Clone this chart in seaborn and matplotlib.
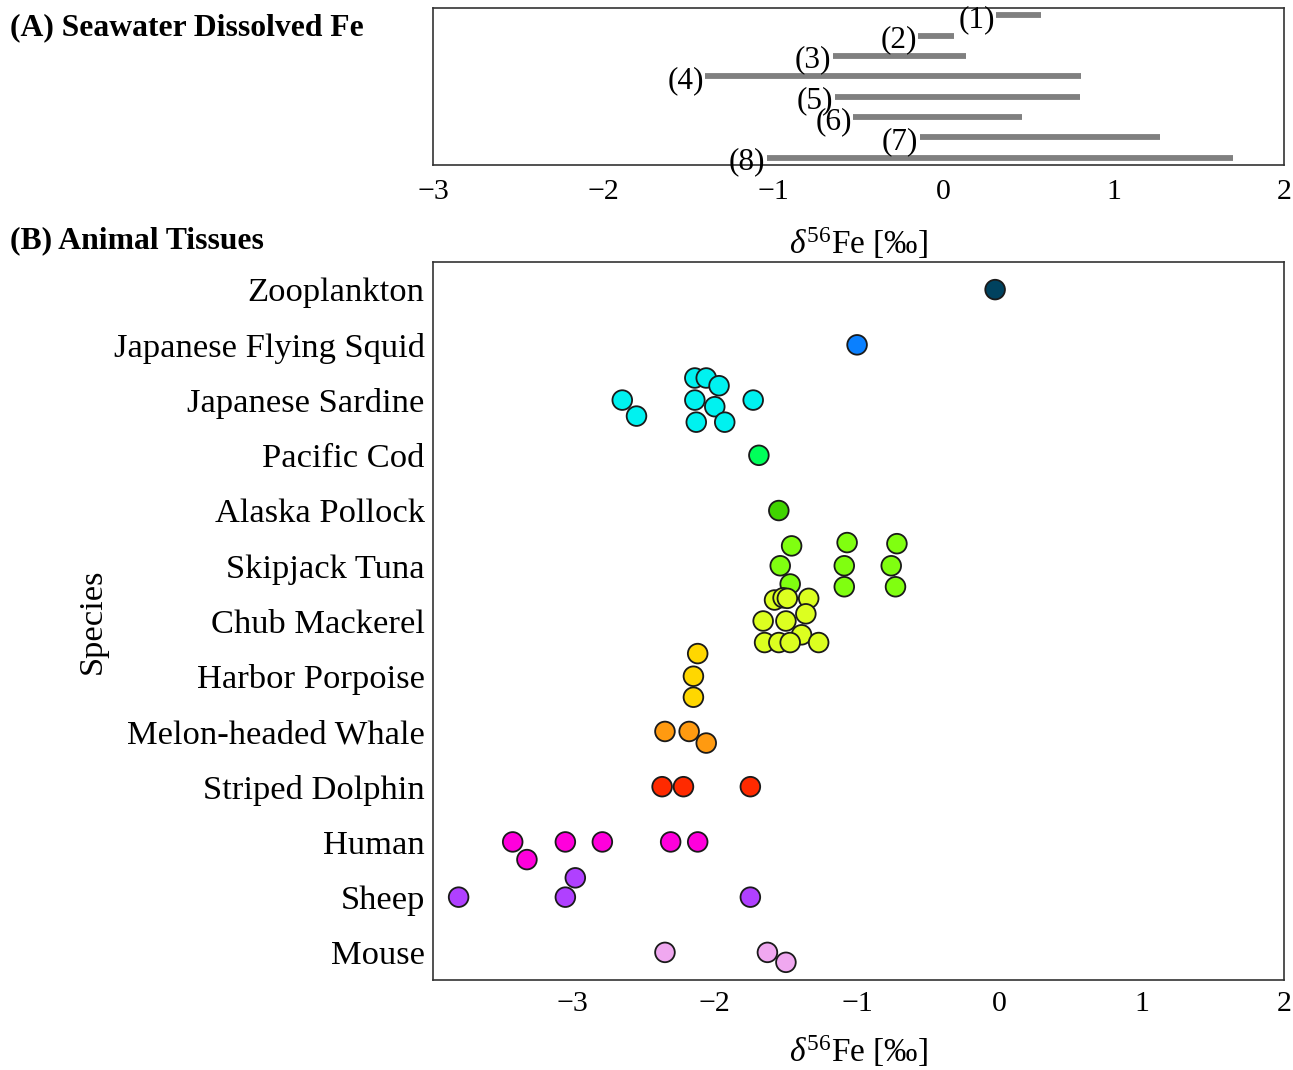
import numpy as np
import pandas as pd
import seaborn as sns
import matplotlib
matplotlib.use("Agg")
import matplotlib.pyplot as plt

# ---------------- data ----------------
sw_labels = ["(1)", "(2)", "(3)", "(4)", "(5)", "(6)", "(7)", "(8)"]
sw_min = [0.31, -0.15, -0.65, -1.40, -0.64, -0.53, -0.14, -1.04]
sw_max = [0.57, 0.06, 0.13, 0.81, 0.80, 0.46, 1.27, 1.70]

species = ["Zooplankton", "Japanese Flying Squid", "Japanese Sardine", "Pacific Cod",
           "Alaska Pollock", "Skipjack Tuna", "Chub Mackerel", "Harbor Porpoise",
           "Melon-headed Whale", "Striped Dolphin", "Human", "Sheep", "Mouse"]

zoo_vals = [-0.03]
zoo_off = [0.0]
squid_vals = [-1.00]
squid_off = [0.0]
sardine_vals = [-2.14, -2.06, -1.97, -2.65, -2.55, -2.14, -2.00, -1.73, -2.13, -1.93]
sardine_off = [-0.40, -0.40, -0.26, 0.0, 0.29, 0.0, 0.12, 0.0, 0.40, 0.40]
cod_vals = [-1.69]
cod_off = [0.0]
pollock_vals = [-1.55]
pollock_off = [0.0]
skipjack_vals = [-1.46, -1.07, -0.72, -1.54, -1.09, -0.76, -1.47, -1.09, -0.73]
skipjack_off = [-0.36, -0.42, -0.40, 0.0, 0.0, 0.0, 0.33, 0.38, 0.38]
chub_vals = [-1.58, -1.52, -1.49, -1.34, -1.66, -1.50, -1.36, -1.39, -1.65, -1.55, -1.47, -1.27]
chub_off = [-0.38, -0.42, -0.41, -0.41, 0.0, 0.0, -0.13, 0.25, 0.39, 0.39, 0.39, 0.39]
harbor_vals = [-2.12, -2.15, -2.15]
harbor_off = [-0.41, 0.0, 0.38]
melon_vals = [-2.35, -2.18, -2.06]
melon_off = [0.0, 0.0, 0.21]
striped_vals = [-2.37, -2.22, -1.75]
striped_off = [0.0, 0.0, 0.0]
human_vals = [-3.42, -3.32, -3.05, -2.79, -2.31, -2.12]
human_off = [0.0, 0.32, 0.0, 0.0, 0.0, 0.0]
sheep_vals = [-3.80, -3.05, -2.98, -1.75]
sheep_off = [0.0, 0.0, -0.35, 0.0]
mouse_vals = [-2.35, -1.63, -1.50]
mouse_off = [0.0, 0.0, 0.18]

colors = ["#00425f", "#0a80ff", "#00f2f0", "#00ff5a", "#40d400", "#80ff10", "#dcff20",
          "#ffd700", "#ff9a10", "#ff2a00", "#ff00dc", "#b040ff", "#f0a8f0"]

all_vals = [zoo_vals, squid_vals, sardine_vals, cod_vals, pollock_vals, skipjack_vals,
            chub_vals, harbor_vals, melon_vals, striped_vals, human_vals, sheep_vals, mouse_vals]
all_offs = [zoo_off, squid_off, sardine_off, cod_off, pollock_off, skipjack_off,
            chub_off, harbor_off, melon_off, striped_off, human_off, sheep_off, mouse_off]

rows = []
for i, (sp, vals, offs) in enumerate(zip(species, all_vals, all_offs)):
    for v, o in zip(vals, offs):
        rows.append({"species": sp, "d56Fe": v, "pos": i + o})
df = pd.DataFrame(rows)

# ---------------- style ----------------
sns.set_theme(style="white")
plt.rcParams["font.family"] = ["Liberation Serif", "DejaVu Serif"]
plt.rcParams["mathtext.fontset"] = "custom"
plt.rcParams["mathtext.rm"] = "Liberation Serif"
plt.rcParams["mathtext.it"] = "Liberation Serif:italic"
plt.rcParams["mathtext.bf"] = "Liberation Serif:bold"
plt.rcParams["axes.unicode_minus"] = True
for k in ["text.color", "axes.labelcolor", "xtick.color", "ytick.color"]:
    plt.rcParams[k] = "black"

W, H = 1293, 1070
fig = plt.figure(figsize=(W / 100, H / 100), dpi=100)

left = 433 / W
width = 851 / W
axA = fig.add_axes([left, 1 - 165 / H, width, 157 / H])
axB = fig.add_axes([left, 1 - 980 / H, width, 718 / H])

xlabel = r"$\delta^{56}$Fe [‰]"

# ---- Panel A ----
ypos = np.arange(1, len(sw_labels) + 1)
axA.hlines(ypos, sw_min, sw_max, color="#808080", lw=4.2)
for y, x0, lab in zip(ypos, sw_min, sw_labels):
    axA.annotate(lab, xy=(x0, y), xytext=(-1, -3), textcoords="offset points",
                 ha="right", va="center", fontsize=22.5)
axA.set_xlim(-3, 2)
axA.set_ylim(8.35, 0.65)
axA.set_yticks([])
axA.set_xticks([-3, -2, -1, 0, 1, 2])
axA.tick_params(axis="x", direction="out", length=6, width=1.2, labelsize=21.5, pad=4)
axA.set_xlabel(xlabel, fontsize=24, labelpad=15)
for s in axA.spines.values():
    s.set_color("#333333")
    s.set_linewidth(1.2)

# ---- Panel B ----
sns.scatterplot(data=df, x="d56Fe", y="pos", hue="species", hue_order=species,
                palette=dict(zip(species, colors)), s=200, edgecolor="#1a1a1a",
                linewidth=1.3, legend=False, ax=axB, zorder=3)
axB.set_xlim(-3.98, 2.0)
axB.set_ylim(12.5, -0.5)
axB.set_yticks(np.arange(len(species)))
axB.set_yticklabels(species)
axB.set_xticks([-3, -2, -1, 0, 1, 2])
axB.tick_params(axis="both", direction="in", length=14, width=1.2)
axB.tick_params(axis="x", labelsize=21.5, pad=8)
axB.tick_params(axis="y", labelsize=24.8, pad=6)
axB.set_xlabel(xlabel, fontsize=24, labelpad=12)
axB.set_ylabel("Species", fontsize=24.8)
axB.yaxis.set_label_coords(-0.382, 0.5)
for s in axB.spines.values():
    s.set_color("#333333")
    s.set_linewidth(1.2)

fig.text(10 / W, 1 - 35 / H, "(A) Seawater Dissolved Fe", fontsize=22.8, fontweight="bold",
         ha="left", va="baseline")
fig.text(10 / W, 1 - 248 / H, "(B) Animal Tissues", fontsize=22.8, fontweight="bold",
         ha="left", va="baseline")

fig.savefig("out.png", dpi=100)
